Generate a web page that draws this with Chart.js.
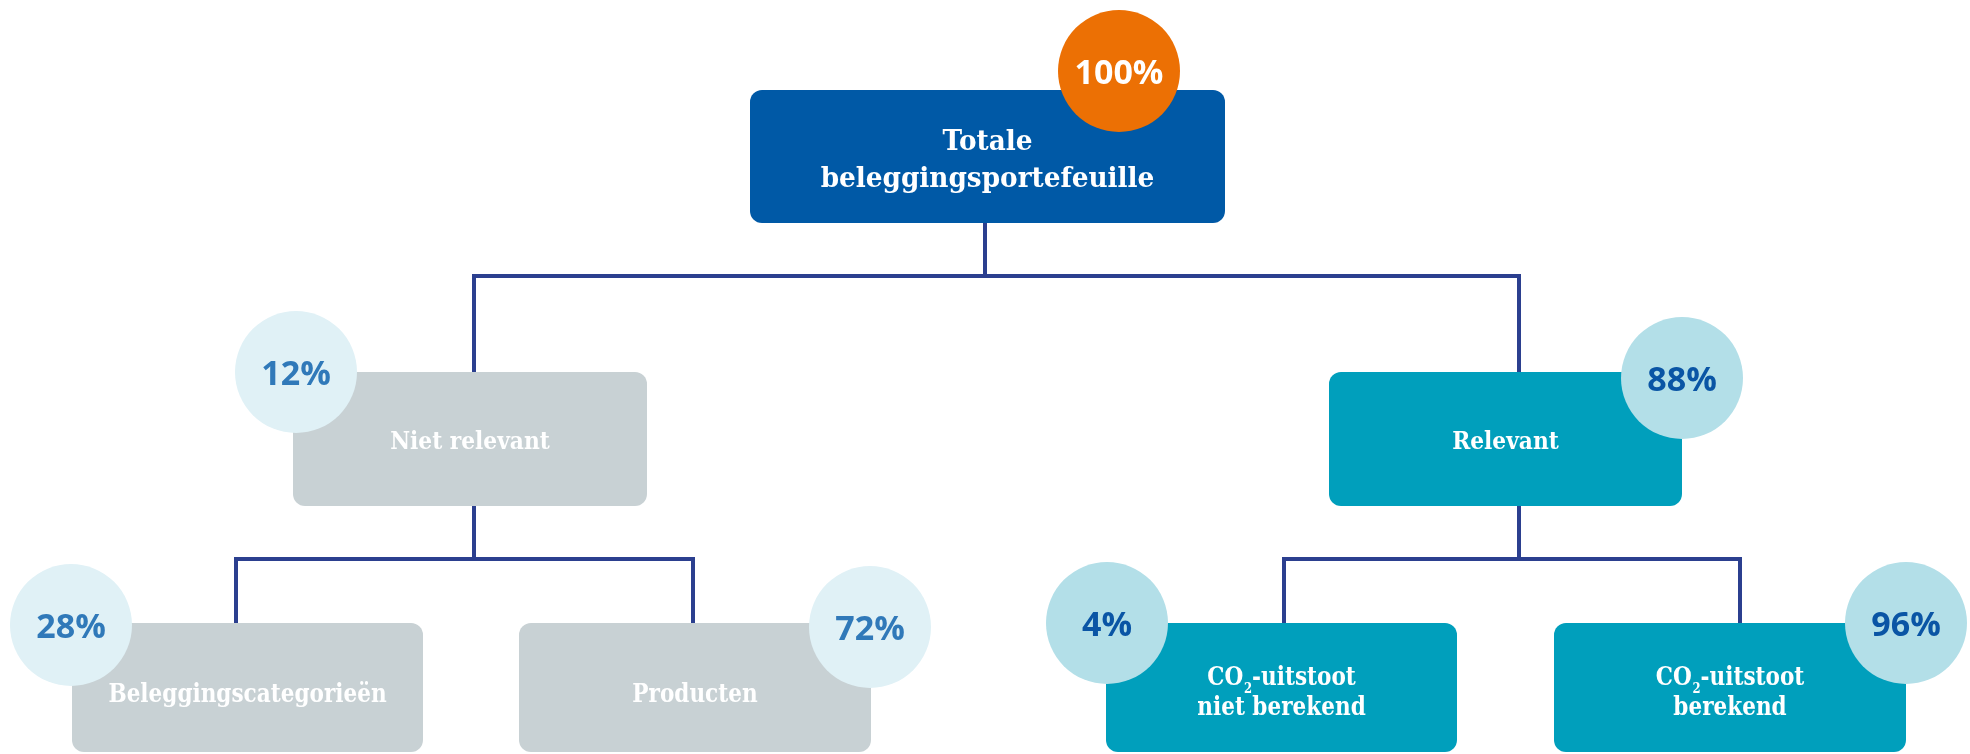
<!DOCTYPE html>
<html>
<head>
<meta charset="utf-8">
<script src="https://cdn.jsdelivr.net/npm/chart.js@4/dist/chart.umd.min.js"></script>
<style>
  html, body { margin: 0; padding: 0; background: #fff; }
  #wrap { width: 1970px; height: 754px; }
</style>
</head>
<body>
<div id="wrap"><canvas id="tree" width="1970" height="754"></canvas></div>
<script>
// tree data
const nodeLabels = [
  ['Totale', 'beleggingsportefeuille'],
  ['Niet relevant'],
  ['Relevant'],
  ['Beleggingscategorieën'],
  ['Producten'],
  ['CO₂-uitstoot', 'niet berekend'],
  ['CO₂-uitstoot', 'berekend']
]
const nodeShares = [100, 12, 88, 28, 72, 4, 96]
const nodeParent = [null, 0, 0, 1, 1, 2, 2]
const nodeGroup = ['root', 'other', 'relevant', 'other', 'other', 'relevant', 'relevant']

// layout (chart units, y axis runs top to bottom)
const boxLeft = [750, 293, 1329, 72, 519, 1106, 1554]
const boxRight = [1225, 647, 1682, 423, 871, 1457, 1906]
const boxTop = [90, 372, 372, 623, 623, 623, 623]
const boxBottom = [223, 506, 506, 752, 752, 752, 752]
const labelBase = [150, 449, 449, 702, 702, 685, 685]
const badgeX = [1119, 296, 1682, 71, 870, 1107, 1906]
const badgeY = [71, 372, 378, 625, 627, 623, 623]
const linkX = [985, 474, 1519, 236, 693, 1284, 1740]
const busY = { 0: 276, 1: 559, 2: 559 }

const groupStyle = {
  root:     { box: '#0059A6', badge: '#EC7004', share: '#ffffff' },
  other:    { box: '#C8D1D4', badge: '#E0F1F6', share: '#3079B9' },
  relevant: { box: '#009FBC', badge: '#B3DFE8', share: '#0A55A5' }
}
// font per tree level: size, horizontal squeeze, line gap
const levelFont = [
  { size: 28, squeeze: 0.94, gap: 37 },
  { size: 25, squeeze: 0.87, gap: 32 },
  { size: 26, squeeze: 0.83, gap: 30 }
]
const lineColor = '#2B3F8F'

function levelOf(i) {
  let l = 0
  while (nodeParent[i] !== null) { i = nodeParent[i]; l++ }
  return l
}

// one elbow connector per parent
const connectors = []
Object.keys(busY).forEach(key => {
  const p = Number(key)
  const kids = nodeParent.map((par, i) => par === p ? i : -1).filter(i => i >= 0)
  const a = kids[0], b = kids[kids.length - 1]
  connectors.push({
    type: 'scatter',
    showLine: true,
    borderColor: lineColor,
    borderWidth: 4,
    borderJoinStyle: 'miter',
    pointRadius: 0,
    clip: false,
    data: [
      { x: linkX[a], y: boxTop[a] },
      { x: linkX[a], y: busY[p] },
      { x: linkX[p], y: busY[p] },
      { x: linkX[p], y: boxBottom[p] },
      { x: linkX[p], y: busY[p] },
      { x: linkX[b], y: busY[p] },
      { x: linkX[b], y: boxTop[b] }
    ]
  })
})

const badges = {
  type: 'scatter',
  data: nodeShares.map((v, i) => ({ x: badgeX[i], y: badgeY[i] })),
  pointRadius: 61,
  pointHoverRadius: 61,
  borderWidth: 0,
  clip: false,
  backgroundColor: nodeGroup.map(g => groupStyle[g].badge)
}

function roundRect(ctx, x0, y0, x1, y1, r) {
  ctx.beginPath()
  ctx.moveTo(x0 + r, y0)
  ctx.arcTo(x1, y0, x1, y1, r)
  ctx.arcTo(x1, y1, x0, y1, r)
  ctx.arcTo(x0, y1, x0, y0, r)
  ctx.arcTo(x0, y0, x1, y0, r)
  ctx.closePath()
}

// draws a line of text, rendering ₂ as a small lowered 2
function drawLabel(ctx, text, cx, base, size, squeeze) {
  const parts = text.split('₂')
  const main = 'bold ' + size + 'px "DejaVu Serif"'
  const sub = 'bold ' + Math.round(size * 0.55) + 'px "DejaVu Serif"'
  let total = 0
  parts.forEach((p, i) => {
    ctx.font = main
    total += ctx.measureText(p).width
    if (i < parts.length - 1) { ctx.font = sub; total += ctx.measureText('2').width + 1 }
  })
  ctx.save()
  ctx.translate(cx, base)
  ctx.scale(squeeze, 1)
  let x = -total / 2
  ctx.textAlign = 'left'
  parts.forEach((p, i) => {
    ctx.font = main
    ctx.fillText(p, x, 0)
    x += ctx.measureText(p).width
    if (i < parts.length - 1) {
      ctx.font = sub
      ctx.fillText('2', x + 1, size * 0.3)
      x += ctx.measureText('2').width + 1
    }
  })
  ctx.restore()
}

const treePlugin = {
  id: 'treeNodes',
  beforeDatasetsDraw(chart) {
    const { ctx, scales: { x, y } } = chart
    ctx.save()
    nodeLabels.forEach((lab, i) => {
      ctx.fillStyle = groupStyle[nodeGroup[i]].box
      roundRect(ctx, x.getPixelForValue(boxLeft[i]), y.getPixelForValue(boxTop[i]),
        x.getPixelForValue(boxRight[i]), y.getPixelForValue(boxBottom[i]), 12)
      ctx.fill()
    })
    ctx.restore()
  },
  afterDatasetsDraw(chart) {
    const { ctx, scales: { x, y } } = chart
    ctx.save()
    ctx.textBaseline = 'alphabetic'
    nodeLabels.forEach((lab, i) => {
      const st = groupStyle[nodeGroup[i]]
      const f = levelFont[levelOf(i)]
      const cx = x.getPixelForValue((boxLeft[i] + boxRight[i]) / 2)
      ctx.fillStyle = '#ffffff'
      lab.forEach((line, k) => drawLabel(ctx, line, cx, y.getPixelForValue(labelBase[i] + k * f.gap), f.size, f.squeeze))

      ctx.fillStyle = st.share
      ctx.font = 'bold 34px "Open Sans"'
      ctx.textAlign = 'center'
      ctx.textBaseline = 'middle'
      ctx.fillText(nodeShares[i] + '%', x.getPixelForValue(badgeX[i]), y.getPixelForValue(badgeY[i]) + 3)
      ctx.textBaseline = 'alphabetic'
    })
    ctx.restore()
  }
}

new Chart(document.getElementById('tree').getContext('2d'), {
  type: 'scatter',
  data: { datasets: [...connectors, badges] },
  options: {
    responsive: false,
    animation: false,
    events: [],
    layout: { padding: 0, autoPadding: false },
    plugins: { legend: { display: false }, tooltip: { enabled: false } },
    scales: {
      x: { type: 'linear', min: 0, max: 1970, display: false },
      y: { type: 'linear', min: 0, max: 754, reverse: true, display: false }
    }
  },
  plugins: [treePlugin]
})
</script>
</body>
</html>
